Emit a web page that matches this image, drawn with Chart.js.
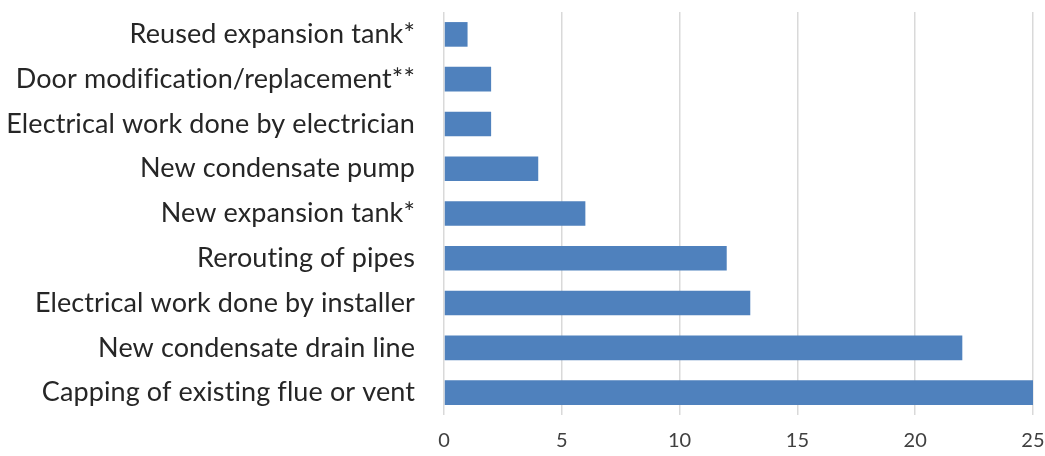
<!DOCTYPE html>
<html>
<head>
<meta charset="utf-8">
<script src="https://cdn.jsdelivr.net/npm/chart.js@4"></script>
<style>
  html, body { margin: 0; padding: 0; background: #fff; }
  #wrap { width: 1045px; height: 456px; }
</style>
</head>
<body>
<div id="wrap"><canvas id="myChart" width="1045" height="456"></canvas></div>
<script>
var categories = [
  "Reused expansion tank*",
  "Door modification/replacement**",
  "Electrical work done by electrician",
  "New condensate pump",
  "New expansion tank*",
  "Rerouting of pipes",
  "Electrical work done by installer",
  "New condensate drain line",
  "Capping of existing flue or vent"
];
var counts = [1, 2, 2, 4, 6, 12, 13, 22, 25];
var xTicks = [0, 5, 10, 15, 20, 25];

// tiny letter spacing stops Lato from drawing "ti"/"fi" ligatures
const noLigatures = {
  id: "noLigatures",
  beforeDraw: (chart) => { chart.ctx.letterSpacing = "0.1px"; }
};

new Chart("myChart", {
  type: "bar",
  data: {
    labels: categories,
    datasets: [{
      data: counts,
      backgroundColor: "#4F81BD",
      categoryPercentage: 1,
      barPercentage: 0.55
    }]
  },
  plugins: [noLigatures],
  options: {
    indexAxis: "y",
    responsive: false,
    animation: false,
    layout: { padding: { top: 12, right: 12, left: 0, bottom: 0 } },
    plugins: { legend: { display: false }, tooltip: { enabled: false } },
    scales: {
      x: {
        min: 0,
        max: 25,
        afterBuildTicks: function (s) { s.ticks = xTicks.map(function (v) { return { value: v }; }); },
        afterFit: function (s) {
          s.height = 41;
          s.paddingLeft = 0; s.paddingRight = 0;
        },
        grid: { color: "#d9d9d9", lineWidth: 1.5, drawTicks: false },
        border: { display: false },
        ticks: { color: "#404040", padding: 14, font: { family: "Lato", size: 20 } }
      },
      y: {
        afterFit: function (s) {
          s.width = 444;
          s.paddingTop = 0; s.paddingBottom = 0;
        },
        grid: { display: false, drawTicks: false },
        border: { display: false },
        ticks: { color: "#262626", padding: 29, font: { family: "Lato", size: 27 } }
      }
    }
  }
});
</script>
</body>
</html>
